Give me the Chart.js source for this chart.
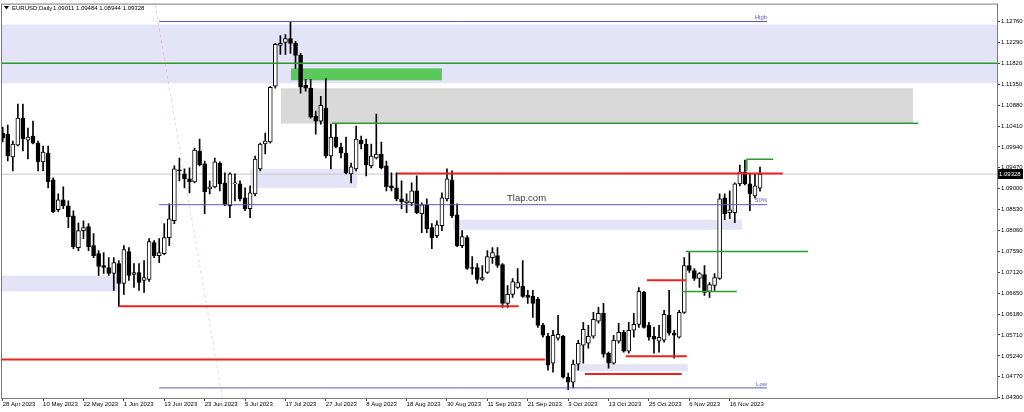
<!DOCTYPE html>
<html>
<head>
<meta charset="utf-8">
<script src="https://cdn.jsdelivr.net/npm/chart.js@4.4.0/dist/chart.umd.min.js"></script>
<style>
html, body { margin: 0; padding: 0; background: #fff; }
</style>
</head>
<body>
<canvas id="chart" width="1024" height="412"></canvas>
<script>
// EURUSD daily, 28 Apr 2023 .. 24 Nov 2023 (one entry per bar)
const open = [
  1.10251, 1.10229, 1.09714, 1.09982, 1.10587, 1.10094, 1.10184, 1.10027, 1.09602, 1.09803,
  1.09198, 1.08526, 1.08750, 1.08616, 1.08392, 1.07675, 1.08056, 1.08146, 1.07720, 1.07541,
  1.07272, 1.07227, 1.07093, 1.07317, 1.06869, 1.07586, 1.07070, 1.07115, 1.06936, 1.06958,
  1.07787, 1.07496, 1.07541, 1.07899, 1.08280, 1.09422, 1.09333, 1.09221, 1.09154, 1.09848,
  1.09557, 1.08997, 1.09042, 1.09579, 1.09131, 1.08616, 1.09109, 1.09109, 1.08795, 1.08549,
  1.08885, 1.09445, 1.10005, 1.10050, 1.11304, 1.12222, 1.12290, 1.12379, 1.12267, 1.11998,
  1.11326, 1.11259, 1.10632, 1.10520, 1.10811, 1.09736, 1.10162, 1.09938, 1.09803, 1.09333,
  1.09445, 1.10094, 1.10005, 1.09512, 1.09691, 1.09781, 1.09512, 1.09064, 1.09019, 1.08773,
  1.08683, 1.08683, 1.08952, 1.08437, 1.08638, 1.08123, 1.07944, 1.08168, 1.08773, 1.09198,
  1.08414, 1.07720, 1.07899, 1.07227, 1.07227, 1.06958, 1.07115, 1.07451, 1.07496, 1.07294,
  1.06421, 1.06622, 1.06779, 1.06802, 1.06600, 1.06578, 1.06510, 1.05928, 1.05682, 1.05077,
  1.05637, 1.05682, 1.04763, 1.04651, 1.05054, 1.05480, 1.05525, 1.05682, 1.06018, 1.06197,
  1.05301, 1.05077, 1.05570, 1.05771, 1.05346, 1.05816, 1.05950, 1.06667, 1.05928, 1.05682,
  1.05570, 1.05592, 1.06152, 1.05749, 1.05659, 1.06219, 1.07272, 1.07160, 1.06981, 1.07070,
  1.06690, 1.06824, 1.06981, 1.08795, 1.08459, 1.08459, 1.09109, 1.09378, 1.09109, 1.08840,
  1.09011
];
const high = [
  1.10386, 1.10430, 1.10072, 1.10901, 1.10901, 1.10363, 1.10520, 1.10072, 1.09960, 1.09960,
  1.09243, 1.08885, 1.09042, 1.08728, 1.08504, 1.08235, 1.08280, 1.08213, 1.07989, 1.07608,
  1.07563, 1.07451, 1.07451, 1.07384, 1.07720, 1.07675, 1.07317, 1.07317, 1.07384, 1.07877,
  1.07832, 1.07877, 1.08213, 1.08661, 1.09512, 1.09691, 1.09445, 1.09467, 1.09915, 1.10117,
  1.09624, 1.09176, 1.09691, 1.09602, 1.09355, 1.09355, 1.09333, 1.09176, 1.09019, 1.09064,
  1.09736, 1.10027, 1.10251, 1.11304, 1.12267, 1.12446, 1.12469, 1.12760, 1.12312, 1.12043,
  1.11461, 1.11461, 1.10744, 1.11080, 1.11483, 1.10453, 1.10453, 1.10027, 1.10162, 1.09579,
  1.10408, 1.10184, 1.10117, 1.10005, 1.10677, 1.10050, 1.09624, 1.09355, 1.09355, 1.09176,
  1.08885, 1.09131, 1.09288, 1.08683, 1.08773, 1.08213, 1.08280, 1.08907, 1.09445, 1.09400,
  1.08661, 1.08056, 1.07944, 1.07474, 1.07317, 1.07272, 1.07608, 1.07675, 1.07675, 1.07317,
  1.06824, 1.06981, 1.07205, 1.07384, 1.06712, 1.06712, 1.06555, 1.05973, 1.05749, 1.05816,
  1.06152, 1.05704, 1.04853, 1.05144, 1.05592, 1.05995, 1.05928, 1.06219, 1.06331, 1.06421,
  1.05323, 1.05704, 1.05973, 1.05816, 1.05995, 1.06197, 1.06779, 1.06690, 1.05995, 1.05883,
  1.05928, 1.06264, 1.06712, 1.05816, 1.06264, 1.07451, 1.07563, 1.07205, 1.07115, 1.07272,
  1.06891, 1.07093, 1.08885, 1.08885, 1.08952, 1.09131, 1.09534, 1.09646, 1.09333, 1.09333,
  1.09484
];
const low = [
  1.10050, 1.09624, 1.09400, 1.09960, 1.09848, 1.09669, 1.10005, 1.09400, 1.09400, 1.09019,
  1.08459, 1.08482, 1.08549, 1.08123, 1.07653, 1.07608, 1.07877, 1.07608, 1.07451, 1.07048,
  1.07093, 1.07048, 1.06712, 1.06354, 1.06622, 1.06936, 1.06779, 1.06712, 1.06667, 1.06914,
  1.07451, 1.07339, 1.07518, 1.07720, 1.08213, 1.09176, 1.09019, 1.08907, 1.09131, 1.09512,
  1.08437, 1.08885, 1.09019, 1.08952, 1.08616, 1.08347, 1.08728, 1.08728, 1.08504, 1.08347,
  1.08840, 1.09400, 1.09781, 1.10027, 1.11259, 1.12021, 1.12021, 1.12043, 1.11707, 1.11147,
  1.11192, 1.10587, 1.10229, 1.10453, 1.09691, 1.09445, 1.09915, 1.09691, 1.09333, 1.09131,
  1.09400, 1.09893, 1.09288, 1.09467, 1.09669, 1.09445, 1.08952, 1.08952, 1.08728, 1.08549,
  1.08459, 1.08616, 1.08437, 1.08011, 1.08011, 1.07653, 1.07899, 1.08056, 1.08728, 1.08347,
  1.07698, 1.07675, 1.07182, 1.07070, 1.06869, 1.06936, 1.07093, 1.07317, 1.07227, 1.06331,
  1.06331, 1.06555, 1.06757, 1.06555, 1.06421, 1.06107, 1.05883, 1.05659, 1.04920, 1.04875,
  1.05592, 1.04741, 1.04480, 1.04517, 1.04920, 1.05077, 1.05413, 1.05637, 1.05973, 1.05211,
  1.04965, 1.05054, 1.05525, 1.05323, 1.05301, 1.05659, 1.05883, 1.05861, 1.05592, 1.05300,
  1.05323, 1.05547, 1.05704, 1.05189, 1.05637, 1.06197, 1.07115, 1.06936, 1.06779, 1.06600,
  1.06555, 1.06712, 1.06958, 1.08302, 1.08325, 1.08235, 1.09064, 1.09086, 1.08504, 1.08795,
  1.08944
];
const close = [
  1.10139, 1.09736, 1.10005, 1.10587, 1.10117, 1.10162, 1.10027, 1.09602, 1.09826, 1.09154,
  1.08482, 1.08750, 1.08616, 1.08370, 1.07698, 1.08056, 1.08123, 1.07698, 1.07496, 1.07250,
  1.07227, 1.07093, 1.07339, 1.06869, 1.07630, 1.07048, 1.07115, 1.06891, 1.07003, 1.07810,
  1.07496, 1.07563, 1.07899, 1.08325, 1.09445, 1.09400, 1.09221, 1.09154, 1.09870, 1.09534,
  1.08930, 1.09042, 1.09602, 1.09109, 1.08638, 1.09333, 1.09131, 1.08773, 1.08549, 1.08907,
  1.09669, 1.10005, 1.10072, 1.11282, 1.12245, 1.12267, 1.12379, 1.12267, 1.11998, 1.11282,
  1.11259, 1.10610, 1.10520, 1.10878, 1.09736, 1.10162, 1.09938, 1.09803, 1.09355, 1.09490,
  1.10117, 1.10005, 1.09534, 1.09736, 1.09781, 1.09467, 1.09042, 1.09019, 1.08773, 1.08706,
  1.08728, 1.08952, 1.08459, 1.08638, 1.08101, 1.07899, 1.08190, 1.08795, 1.09221, 1.08392,
  1.07720, 1.07922, 1.07205, 1.07205, 1.06958, 1.07003, 1.07474, 1.07563, 1.07272, 1.06421,
  1.06622, 1.06914, 1.06891, 1.06578, 1.06555, 1.06421, 1.05928, 1.05704, 1.05032, 1.05704,
  1.05726, 1.04763, 1.04651, 1.05054, 1.05525, 1.05838, 1.05682, 1.06062, 1.06197, 1.05278,
  1.05077, 1.05592, 1.05771, 1.05346, 1.05816, 1.05950, 1.06690, 1.05883, 1.05659, 1.05614,
  1.05659, 1.06174, 1.05749, 1.05704, 1.06219, 1.07272, 1.07160, 1.06981, 1.07093, 1.06667,
  1.06846, 1.07003, 1.08773, 1.08437, 1.08526, 1.09109, 1.09378, 1.09109, 1.08885, 1.09064,
  1.09328
];

const xTickBars = [0, 8, 16, 24, 32, 40, 48, 56, 64, 72, 80, 88, 96, 104, 112, 120, 128, 136, 144];
const xTickLabels = ['28 Apr 2023', '10 May 2023', '22 May 2023', '1 Jun 2023', '13 Jun 2023', '23 Jun 2023',
  '5 Jul 2023', '17 Jul 2023', '27 Jul 2023', '8 Aug 2023', '18 Aug 2023', '30 Aug 2023', '11 Sep 2023',
  '21 Sep 2023', '3 Oct 2023', '13 Oct 2023', '25 Oct 2023', '6 Nov 2023', '16 Nov 2023'];
const yTicks = [1.12760, 1.12290, 1.11820, 1.11350, 1.10880, 1.10410, 1.09940, 1.09470, 1.09000, 1.08530,
  1.08060, 1.07590, 1.07120, 1.06650, 1.06180, 1.05710, 1.05240, 1.04770, 1.04300];

// chart objects: [from bar, to bar, upper price, lower price]
const lavenderZones = [
  [-2, 200, 1.12693, 1.11371],
  [49, 70.2, 1.09445, 1.09019],
  [89.2, 146.4, 1.08302, 1.08078],
  [-2, 23.3, 1.07048, 1.06690],
  [113, 135.7, 1.05054, 1.04898]
];
const greenZone = [57.1, 87.0, 1.11707, 1.11438];
const grayZone = [55.1, 180.3, 1.11259, 1.10464];

// [from bar, to bar, price]
const redLevels = [
  [78.1, 154.5, 1.09340], [23, 102.2, 1.06354], [-2, 107.4, 1.05160],
  [115.3, 134.5, 1.04830], [123.4, 135.5, 1.05230], [127.6, 135.3, 1.06940]
];
const greenLevels = [
  [-2, 200, 1.11820], [65.2, 181.3, 1.10475], [134.5, 145.4, 1.06690], [135.3, 159.5, 1.07590]
];
const greenHook = [[147.4, 1.09400], [147.4, 1.09660], [152.6, 1.09660]];
const fibLevels = [[31, 151.4, 1.12760], [31, 151.4, 1.08640], [31, 151.4, 1.04520]];
const fibNames = ['High', '50%', 'Low'];
const trendLine = [[30.2, 1.13140], [43.5, 1.04300]];
const lastPrice = 1.09328;

const FONT = "'Liberation Sans', Arial, sans-serif";

const bars = close.map((_, i) => i);
const wickData = bars.map(i => ({ x: i, y: [low[i], high[i]] }));
const bodyData = bars.map(i => ({ x: i, y: [open[i], close[i]] }));
const bodyFill = bars.map(i => close[i] >= open[i] ? '#ffffff' : '#000000');

function seg(points, color, width, order, dash) {
    return {
        type: 'line',
        data: points.map(p => ({ x: p[0], y: p[1] })),
        borderColor: color,
        borderWidth: width,
        borderDash: dash || [],
        pointRadius: 0,
        fill: false,
        tension: 0,
        order: order
    };
}

const datasets = [
    seg(trendLine, 'rgba(240,150,150,0.45)', 1, 9, [3, 3]),
    seg([[-2, lastPrice], [200, lastPrice]], '#c8c8c8', 1, 8),
    {
        type: 'bar', data: wickData, backgroundColor: '#000', borderWidth: 0,
        barThickness: 1, grouped: false, order: 7
    },
    {
        type: 'bar', data: bodyData, backgroundColor: bodyFill, borderColor: '#000',
        borderWidth: 1, borderSkipped: false, barThickness: 4, minBarLength: 1,
        grouped: false, order: 6
    }
];
redLevels.forEach(l => datasets.push(seg([[l[0], l[2]], [l[1], l[2]]], '#ee2020', 2, 2)));
greenLevels.forEach(l => datasets.push(seg([[l[0], l[2]], [l[1], l[2]]], '#2e9a2e', 1.5, 2)));
datasets.push(seg(greenHook, '#2e9a2e', 1.5, 2));
fibLevels.forEach(l => datasets.push(seg([[l[0], l[2]], [l[1], l[2]]], '#5a5ab4', 1, 2)));

const overlay = {
    id: 'overlay',
    beforeDatasetsDraw(chart) {
        const { ctx, chartArea: a, scales: { x, y } } = chart;
        ctx.save();
        ctx.beginPath();
        ctx.rect(a.left, a.top, a.right - a.left, a.bottom - a.top);
        ctx.clip();
        const box = (z, color) => {
            const x0 = x.getPixelForValue(z[0]), x1 = x.getPixelForValue(z[1]);
            const y0 = y.getPixelForValue(z[2]), y1 = y.getPixelForValue(z[3]);
            ctx.fillStyle = color;
            ctx.fillRect(x0, y0, x1 - x0, y1 - y0);
        };
        lavenderZones.forEach(z => box(z, '#e4e4f8'));
        box(grayZone, '#d9d9d9');
        box(greenZone, '#5ac85a');
        ctx.restore();
    },
    afterDraw(chart) {
        const { ctx, chartArea: a, scales: { x, y } } = chart;
        ctx.save();
        // frame
        ctx.strokeStyle = '#7a7a7a';
        ctx.lineWidth = 1;
        ctx.strokeRect(a.left - 0.5, a.top - 0.5, a.right - a.left + 1, a.bottom - a.top + 1);

        // header
        ctx.fillStyle = '#000';
        ctx.beginPath();
        ctx.moveTo(4, 6); ctx.lineTo(9, 6); ctx.lineTo(6.5, 9.5); ctx.closePath();
        ctx.fill();
        ctx.font = '6px ' + FONT;
        ctx.textBaseline = 'middle';
        ctx.textAlign = 'left';
        ctx.fillText('EURUSD,Daily', 12, 8);
        ctx.fillText(open[open.length - 1].toFixed(5) + ' ' + high[high.length - 1].toFixed(5) + ' ' +
            low[low.length - 1].toFixed(5) + ' ' + close[close.length - 1].toFixed(5), 53, 8);

        // fibo labels
        ctx.fillStyle = '#5a5ab4';
        ctx.textAlign = 'right';
        ctx.textBaseline = 'bottom';
        fibLevels.forEach((l, i) => {
            ctx.fillText(fibNames[i], x.getPixelForValue(l[1]), y.getPixelForValue(l[2]) - 1);
        });

        // watermark text
        ctx.fillStyle = '#3c3c3c';
        ctx.font = '9.5px ' + FONT;
        ctx.textAlign = 'left';
        ctx.textBaseline = 'middle';
        ctx.fillText('Tlap.com', 507, 198);

        // last price box
        const py = Math.round(y.getPixelForValue(lastPrice));
        ctx.fillStyle = '#000';
        ctx.fillRect(a.right + 1, py - 5, 25, 10);
        ctx.fillStyle = '#fff';
        ctx.font = '6px ' + FONT;
        ctx.fillText(lastPrice.toFixed(5), a.right + 2, py);
        ctx.restore();
    }
};

new Chart(document.getElementById('chart'), {
    data: { datasets: datasets },
    options: {
        responsive: false,
        animation: false,
        devicePixelRatio: 1,
        layout: { padding: { left: 2, top: 3, right: 0, bottom: 0 } },
        plugins: { legend: { display: false }, tooltip: { enabled: false } },
        scales: {
            x: {
                type: 'linear',
                offset: false,
                min: -0.139,
                max: 196.94,
                afterFit: s => { s.height = 14; },
                afterBuildTicks: s => { s.ticks = xTickBars.map(v => ({ value: v })); },
                grid: { drawOnChartArea: false, offset: false, tickLength: 3, color: '#444' },
                border: { display: false },
                ticks: {
                    autoSkip: false, maxRotation: 0, minRotation: 0, align: 'start', padding: 0,
                    color: '#000', font: { family: FONT, size: 6 },
                    callback: (v, i) => xTickLabels[i]
                }
            },
            y: {
                type: 'linear',
                position: 'right',
                min: 1.042928,
                max: 1.131408,
                afterFit: s => { s.width = 27; },
                afterBuildTicks: s => { s.ticks = yTicks.map(v => ({ value: v })); },
                grid: { drawOnChartArea: false, tickLength: 3, color: '#444' },
                border: { display: false },
                ticks: {
                    padding: 1, color: '#000', font: { family: FONT, size: 6 },
                    callback: v => v.toFixed(5)
                }
            }
        }
    },
    plugins: [overlay]
});
</script>
</body>
</html>
